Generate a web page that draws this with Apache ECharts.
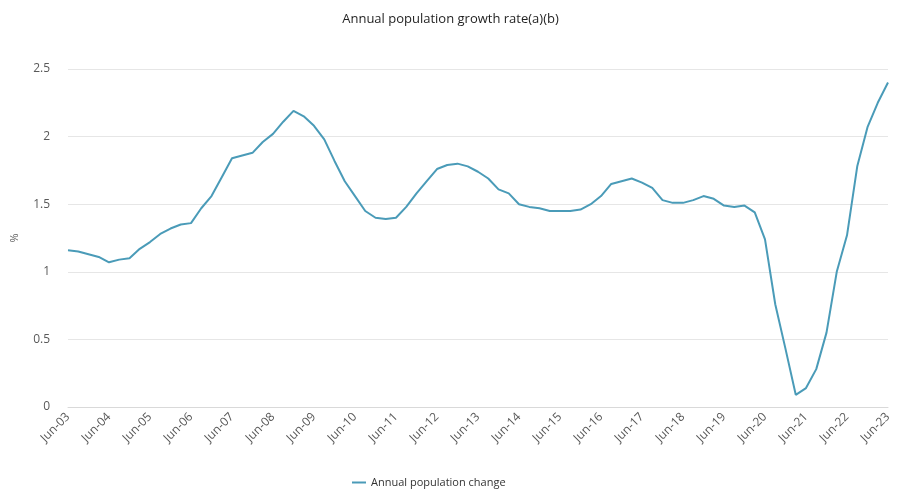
<!DOCTYPE html>
<html>
<head>
<meta charset="utf-8">
<script src="https://cdn.jsdelivr.net/npm/echarts@6/dist/echarts.min.js"></script>
<style>
  html, body { margin: 0; padding: 0; background: #ffffff; }
  #chart { width: 901px; height: 493px; }
</style>
</head>
<body>
<div id="chart"></div>
<script>
// Quarterly periods, Jun-03 to Jun-23
const months = ['Jun', 'Sep', 'Dec', 'Mar'];
const startYear = 2003;
const quarterCount = 81;

// Annual population change (%), one value per quarter
const growthRate = [
  1.16, 1.15, 1.13, 1.11, 1.07, 1.09, 1.10, 1.17, 1.22, 1.28,
  1.32, 1.35, 1.36, 1.47, 1.56, 1.70, 1.84, 1.86, 1.88, 1.96,
  2.02, 2.11, 2.19, 2.15, 2.08, 1.98, 1.82, 1.67, 1.56, 1.45,
  1.40, 1.39, 1.40, 1.48, 1.58, 1.67, 1.76, 1.79, 1.80, 1.78,
  1.74, 1.69, 1.61, 1.58, 1.50, 1.48, 1.47, 1.45, 1.45, 1.45,
  1.46, 1.50, 1.56, 1.65, 1.67, 1.69, 1.66, 1.62, 1.53, 1.51,
  1.51, 1.53, 1.56, 1.54, 1.49, 1.48, 1.49, 1.44, 1.24, 0.76,
  0.43, 0.09, 0.14, 0.28, 0.55, 1.00, 1.27, 1.78, 2.07, 2.25,
  2.40
];

// Period labels such as "Jun-03", "Sep-03", "Dec-03", "Mar-04"
const periods = [];
for (let i = 0; i < quarterCount; i++) {
  const m = months[i % 4];
  const yr = startYear + Math.floor((i + 2) / 4);
  periods.push(m + '-' + String(yr % 100).padStart(2, '0'));
}

const yTicks = { min: 0, max: 2.5, interval: 0.5 };

const chart = echarts.init(document.getElementById('chart'));
const fontFamily = '"Open Sans", "Noto Sans", sans-serif';

chart.setOption({
  animation: false,
  backgroundColor: '#ffffff',
  title: {
    text: 'Annual population growth rate(a)(b)',
    left: 'center',
    top: 8,
    textStyle: { fontFamily, fontSize: 13, fontWeight: 'normal', color: '#1f1f1f' }
  },
  legend: {
    top: 475,
    left: 347,
    icon: 'rect',
    itemWidth: 14,
    itemHeight: 2,
    itemGap: 6,
    padding: [2, 5, 2, 5],
    textStyle: { fontFamily, fontSize: 11, color: '#333333' },
    data: ['Annual population change']
  },
  grid: { left: 68, right: 13, top: 69, bottom: 86, containLabel: false },
  xAxis: {
    type: 'category',
    data: periods,
    boundaryGap: false,
    axisLine: { show: true, lineStyle: { color: '#d9d9d9' } },
    axisTick: { show: false },
    axisLabel: {
      interval: 3,
      rotate: 45,
      margin: 8,
      fontFamily,
      fontSize: 12,
      color: '#595959'
    },
    splitLine: { show: false }
  },
  yAxis: {
    type: 'value',
    min: yTicks.min,
    max: yTicks.max,
    interval: yTicks.interval,
    name: '%',
    nameLocation: 'middle',
    nameGap: 48,
    nameRotate: 90,
    nameTextStyle: { fontFamily, fontSize: 11, color: '#595959' },
    axisLine: { show: false },
    axisTick: { show: false },
    axisLabel: { fontFamily, fontSize: 12, color: '#595959', margin: 18 },
    splitLine: { lineStyle: { color: '#e6e6e6', width: 1 } }
  },
  series: [{
    name: 'Annual population change',
    type: 'line',
    data: growthRate,
    symbol: 'none',
    smooth: false,
    lineStyle: { color: '#4a9bb8', width: 2 },
    itemStyle: { color: '#4a9bb8' }
  }]
});
</script>
</body>
</html>
